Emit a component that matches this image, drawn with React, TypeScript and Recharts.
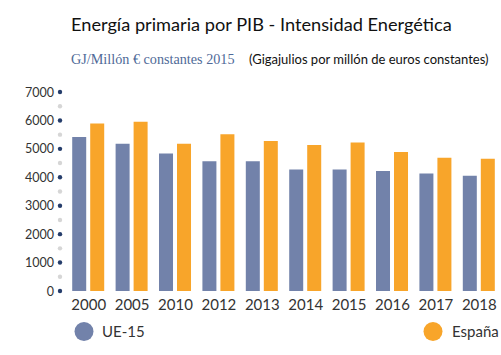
import React from "react";
import { BarChart, Bar, XAxis, YAxis, Customized } from "recharts";

const years = ["2000", "2005", "2010", "2012", "2013", "2014", "2015", "2016", "2017", "2018"];
const ue15 = [5420, 5180, 4840, 4560, 4560, 4270, 4270, 4220, 4130, 4050];
const espana = [5890, 5950, 5180, 5510, 5280, 5140, 5220, 4890, 4690, 4650];
const yTicks = [0, 500, 1000, 1500, 2000, 2500, 3000, 3500, 4000, 4500, 5000, 5500, 6000, 6500, 7000];

const data = years.map((y, i) => ({ year: y, ue: ue15[i], es: espana[i] }));

const BLUE = "#7282aa";
const ORANGE = "#f8a52a";
const AXIS_FONT = "Lato, 'Open Sans', sans-serif";

const YTick = (props: any) => {
  const { y, payload } = props;
  const v = payload.value as number;
  const major = v % 1000 === 0;
  return (
    <g>
      {major && (
        <text x={54} y={y} dy={4.5} textAnchor="end" fontSize={12.5} fill="#333" fontFamily={AXIS_FONT}>
          {v}
        </text>
      )}
      <circle cx={60} cy={y} r={2.2} fill={major ? "#253d6b" : "#d6d6d6"} />
    </g>
  );
};

const XTick = (props: any) => {
  const { x, payload } = props;
  return (
    <text x={x} y={305} dy={5} textAnchor="middle" fontSize={15} fill="#333" fontFamily={AXIS_FONT}>
      {payload.value}
    </text>
  );
};

const Legendish = () => (
  <g>
    <circle cx={84} cy={331.5} r={9.5} fill={BLUE} />
    <text x={102} y={331.5} dy={5} fontSize={15} fill="#333" fontFamily={AXIS_FONT}>UE-15</text>
    <circle cx={433} cy={331.5} r={9.5} fill={ORANGE} />
    <text x={452} y={331.5} dy={5} fontSize={15} fill="#333" fontFamily={AXIS_FONT}>España</text>
  </g>
);

export default function App() {
  return (
    <div style={{ position: "fixed", left: 0, top: 0, width: 501, height: 355, background: "#fff" }}>
      <div style={{ position: "absolute", left: 71, top: 13, fontFamily: "Lato, sans-serif", fontSize: 18.2, color: "#111", whiteSpace: "nowrap" }}>
        Energía primaria por PIB - Intensidad Energética
      </div>
      <div style={{ position: "absolute", left: 71, top: 51, fontFamily: "'Liberation Serif', serif", fontSize: 14.2, color: "#4f6a98", whiteSpace: "nowrap" }}>
        GJ/Millón € constantes 2015
      </div>
      <div style={{ position: "absolute", left: 249, top: 51, fontFamily: "Lato, sans-serif", fontSize: 13, color: "#111", whiteSpace: "nowrap" }}>
        (Gigajulios por millón de euros constantes)
      </div>
      <BarChart
        width={501}
        height={355}
        data={data}
        margin={{ top: 92, right: 0, bottom: 0, left: 0 }}
        barCategoryGap="12%"
        barGap={4}
        style={{ position: "absolute", left: 0, top: 0 }}
      >
        <XAxis dataKey="year" axisLine={false} tickLine={false} height={64} tick={<XTick />} interval={0} />
        <YAxis
          width={67}
          domain={[0, 7000]}
          ticks={yTicks}
          interval={0}
          axisLine={false}
          tickLine={false}
          tick={<YTick />}
        />
        <Bar dataKey="ue" fill={BLUE} isAnimationActive={false} />
        <Bar dataKey="es" fill={ORANGE} isAnimationActive={false} />
        <Customized component={Legendish} />
      </BarChart>
    </div>
  );
}
